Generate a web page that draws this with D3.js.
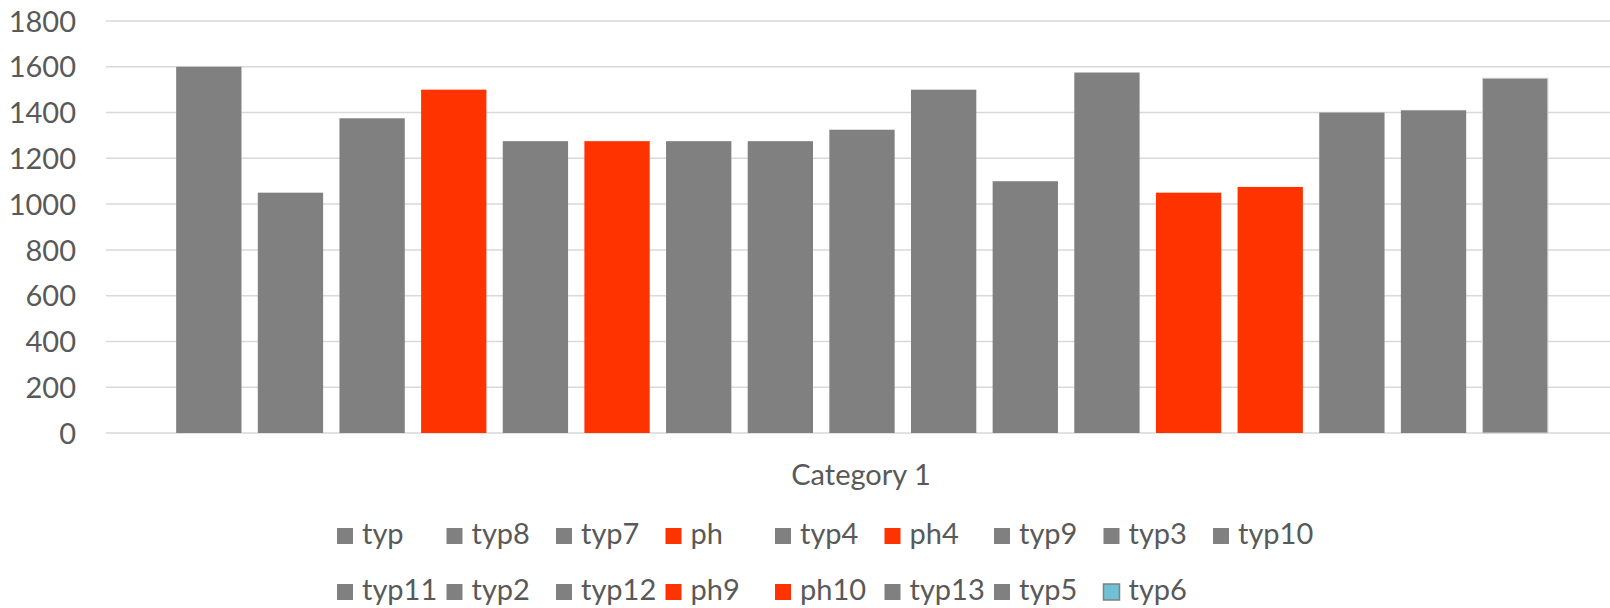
<!DOCTYPE html>
<html><head><meta charset="utf-8">
<script src="https://cdn.jsdelivr.net/npm/d3@7"></script>
<style>body{margin:0;background:#fff}svg{display:block}text{font-family:"Lato",sans-serif;fill:#595959}</style>
</head><body>
<svg id="c" width="1610" height="608"></svg>
<script>
const category = "Category 1";
const seriesNames = ["typ","typ8","typ7","ph","typ4","ph4","typ9","typ3","typ10","typ11","typ2","typ12","ph9","ph10","typ13","typ5","typ6"];
const seriesValues = [1600,1050,1375,1500,1275,1275,1275,1275,1325,1500,1100,1575,1050,1075,1400,1410,1550];
const highlighted = ["ph","ph4","ph9","ph10"];
const yTicks = [0,200,400,600,800,1000,1200,1400,1600,1800];

const svg = d3.select("#c");
const y = d3.scaleLinear().domain([0,1800]).range([433,21]);
const x = d3.scaleBand().domain(seriesNames).range([168,1556]).paddingInner(0.2).paddingOuter(0.1);
const color = n => highlighted.includes(n) ? "#FF3300" : "#808080";

// gridlines
svg.append("g").selectAll("line").data(yTicks).join("line")
  .attr("x1",106).attr("x2",1610)
  .attr("y1",d=>y(d)).attr("y2",d=>y(d))
  .attr("stroke","#d9d9d9").attr("stroke-width",1.5);

// y axis labels
const yAxis = d3.axisLeft(y).tickValues(yTicks).tickFormat(d3.format("d")).tickSize(0).tickPadding(0);
const ga = svg.append("g").attr("transform","translate(76,0)").call(yAxis);
ga.select(".domain").remove();
ga.selectAll("text").attr("font-size",29).attr("font-family","Lato").attr("fill","#595959").attr("dy","0.35em");

// bars
svg.append("g").selectAll("rect").data(seriesNames).join("rect")
  .attr("x",d=>x(d)).attr("width",x.bandwidth())
  .attr("y",(d,i)=>y(seriesValues[i])).attr("height",(d,i)=>y(0)-y(seriesValues[i]))
  .attr("fill",d=>color(d))
  .attr("stroke",d=>d==="typ6"?"#d0d0d0":"none").attr("stroke-width",1);

// category label
svg.append("text").attr("x",861).attr("y",485).attr("text-anchor","middle")
  .attr("font-size",29).text(category);

// legend
const legendColor = n => n==="typ6" ? "#70C0D6" : color(n);
const lg = svg.append("g").selectAll("g").data(seriesNames).join("g")
  .attr("transform",(d,i)=>{const r=i<9?0:1, c=i<9?i:i-9; return `translate(${337+c*109.5},${r===0?528:584})`;});
lg.append("rect").attr("width",16).attr("height",16)
  .attr("fill",d=>legendColor(d))
  .attr("stroke",d=>d==="typ6"?"#808080":"none").attr("stroke-width",1.5);
lg.append("text").attr("x",25).attr("y",16).attr("font-size",29).text(d=>d);
</script>
</body></html>
